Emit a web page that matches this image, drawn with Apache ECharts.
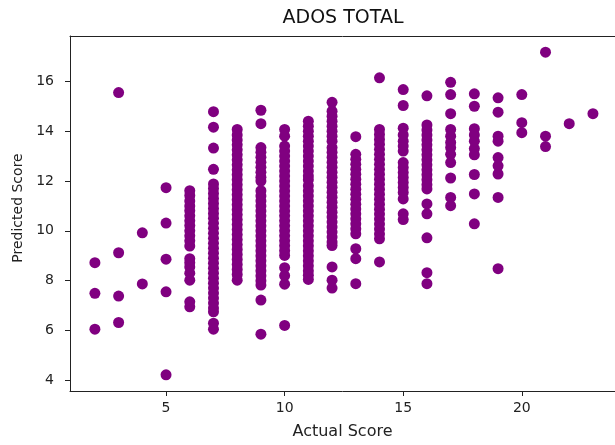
<!DOCTYPE html>
<html>
<head>
<meta charset="utf-8">
<script src="https://cdn.jsdelivr.net/npm/echarts@6/dist/echarts.min.js"></script>
<style>
html,body{margin:0;padding:0;background:#fff;}
#chart{width:615px;height:445px;}
</style>
</head>
<body>
<div id="chart"></div>
<script>
// Actual scores (x categories) and predicted scores read per actual score
const actualScores = [2,3,4,5,6,7,8,9,10,11,12,13,14,15,16,17,18,19,20,21,22,23];
const p2 = [8.72, 7.49, 6.05];
const p3 = [15.55, 9.12, 7.38, 6.32];
const p4 = [9.92, 7.87];
const p5 = [11.73, 10.31, 8.86, 7.55, 4.22];
const p6 = [11.61, 11.42, 11.2, 11.0, 10.81, 10.6, 10.4, 10.21, 10.0, 9.8, 9.6, 9.39, 8.88, 8.72, 8.55, 8.3, 8.02, 7.15, 6.95];
const p7 = [14.78, 14.16, 13.32, 12.47, 11.88, 11.7, 11.5, 11.3, 11.1, 10.9, 10.7, 10.5, 10.3, 10.1, 9.9, 9.7, 9.5, 9.3, 9.1, 8.9, 8.7, 8.5, 8.3, 8.1, 7.9, 7.7, 7.5, 7.3, 7.1, 6.9, 6.75, 6.29, 6.05];
const p8 = [14.07, 13.85, 13.65, 13.45, 13.25, 13.05, 12.85, 12.65, 12.45, 12.25, 12.05, 11.85, 11.65, 11.45, 11.25, 11.05, 10.85, 10.65, 10.45, 10.25, 10.05, 9.85, 9.65, 9.45, 9.25, 9.05, 8.85, 8.65, 8.45, 8.25, 8.02];
const p9 = [14.84, 14.3, 13.34, 13.15, 12.95, 12.75, 12.55, 12.35, 12.15, 12.0, 11.61, 11.4, 11.2, 11.0, 10.8, 10.6, 10.4, 10.2, 10.0, 9.8, 9.6, 9.4, 9.2, 9.0, 8.8, 8.6, 8.4, 8.2, 8.0, 7.82, 7.22, 5.85];
const p10 = [14.07, 13.8, 13.4, 13.2, 13.0, 12.8, 12.6, 12.4, 12.2, 12.0, 11.8, 11.6, 11.4, 11.2, 11.0, 10.8, 10.6, 10.4, 10.2, 10.0, 9.8, 9.6, 9.4, 9.2, 9.01, 8.52, 8.2, 7.86, 6.2];
const p11 = [14.4, 14.2, 14.0, 13.8, 13.6, 13.4, 13.2, 13.0, 12.8, 12.6, 12.4, 12.2, 12.05, 11.81, 11.6, 11.4, 11.2, 11.0, 10.8, 10.6, 10.4, 10.2, 10.0, 9.8, 9.6, 9.4, 9.2, 9.0, 8.8, 8.6, 8.4, 8.22, 8.05];
const p12 = [15.16, 14.8, 14.6, 14.4, 14.2, 14.0, 13.8, 13.6, 13.34, 13.15, 12.95, 12.75, 12.55, 12.35, 12.15, 11.95, 11.75, 11.55, 11.35, 11.15, 10.95, 10.75, 10.55, 10.35, 10.15, 9.95, 9.75, 9.55, 9.41, 8.55, 8.02, 7.7];
const p13 = [13.78, 13.07, 12.87, 12.67, 12.47, 12.27, 12.07, 11.87, 11.67, 11.47, 11.27, 11.07, 10.88, 10.68, 10.48, 10.28, 10.08, 9.88, 9.28, 8.88, 7.88];
const p14 = [16.14, 14.07, 13.87, 13.67, 13.47, 13.27, 13.07, 12.87, 12.67, 12.47, 12.27, 12.07, 11.87, 11.67, 11.47, 11.27, 11.07, 10.87, 10.67, 10.47, 10.27, 10.07, 9.87, 9.68, 8.75];
const p15 = [15.67, 15.03, 14.12, 13.85, 13.6, 13.4, 13.2, 12.74, 12.54, 12.34, 12.14, 11.94, 11.74, 11.54, 11.28, 10.68, 10.45];
const p16 = [15.42, 14.25, 14.05, 13.85, 13.65, 13.45, 13.25, 13.05, 12.85, 12.65, 12.45, 12.25, 12.05, 11.85, 11.68, 11.08, 10.68, 9.72, 8.32, 7.88];
const p17 = [15.96, 15.47, 14.7, 14.07, 13.8, 13.55, 13.34, 13.07, 12.74, 12.12, 11.34, 11.01];
const p18 = [15.5, 15.0, 14.1, 13.85, 13.6, 13.3, 13.05, 12.26, 11.48, 10.28];
const p19 = [15.34, 14.76, 13.8, 13.6, 12.94, 12.61, 12.28, 11.34, 8.48];
const p20 = [15.47, 14.34, 13.94];
const p21 = [17.17, 13.8, 13.38];
const p22 = [14.3];
const p23 = [14.7];
const predictedByScore = [p2,p3,p4,p5,p6,p7,p8,p9,p10,p11,p12,p13,p14,p15,p16,p17,p18,p19,p20,p21,p22,p23];
const xTicks = [5, 10, 15, 20];
const yTicks = [4, 6, 8, 10, 12, 14, 16];

const points = [];
actualScores.forEach((a, i) => predictedByScore[i].forEach(v => points.push([a, v])));

const FONT = 'DejaVu Sans';
const AX = '#222';
const X_MIN = 0.95, X_MAX = 23.93;
const chart = echarts.init(document.getElementById('chart'), null, {renderer: 'canvas'});
chart.setOption({
  animation: false,
  backgroundColor: '#fff',
  title: {
    text: 'ADOS TOTAL', left: 343, top: 9, textAlign: 'center', padding: 0,
    textStyle: {fontFamily: FONT, fontSize: 19, fontWeight: 'normal', color: '#111'}
  },
  grid: {left: 70, top: 36, right: -2, bottom: 52, show: false},
  xAxis: [{
    type: 'value', min: X_MIN, max: X_MAX, position: 'bottom',
    name: 'Actual Score', nameLocation: 'middle', nameGap: 33,
    nameTextStyle: {fontFamily: FONT, fontSize: 16, color: AX},
    axisLine: {show: true, onZero: false, lineStyle: {color: AX, width: 1}},
    axisTick: {show: true, length: 5, customValues: xTicks, lineStyle: {color: AX}},
    axisLabel: {customValues: xTicks, fontFamily: FONT, fontSize: 14, color: AX, margin: 10},
    splitLine: {show: false}
  }, {
    type: 'value', min: X_MIN, max: X_MAX, position: 'top',
    axisLine: {show: true, onZero: false, lineStyle: {color: AX, width: 1}},
    axisTick: {show: false}, axisLabel: {show: false}, splitLine: {show: false}
  }],
  yAxis: {
    type: 'value', min: 3.57, max: 17.82,
    name: 'Predicted Score', nameLocation: 'middle', nameGap: 43, nameRotate: 90,
    nameTextStyle: {fontFamily: FONT, fontSize: 14, color: AX, padding: [0, 0, 0, 11]},
    axisLine: {show: true, onZero: false, lineStyle: {color: AX, width: 1}},
    axisTick: {show: true, length: 5, customValues: yTicks, lineStyle: {color: AX}},
    axisLabel: {customValues: yTicks, fontFamily: FONT, fontSize: 14, color: AX, margin: 16},
    splitLine: {show: false}
  },
  series: [{
    type: 'scatter', data: points, symbolSize: 11, xAxisIndex: 0,
    itemStyle: {color: '#800080', opacity: 1}
  }]
});
</script>
</body>
</html>
